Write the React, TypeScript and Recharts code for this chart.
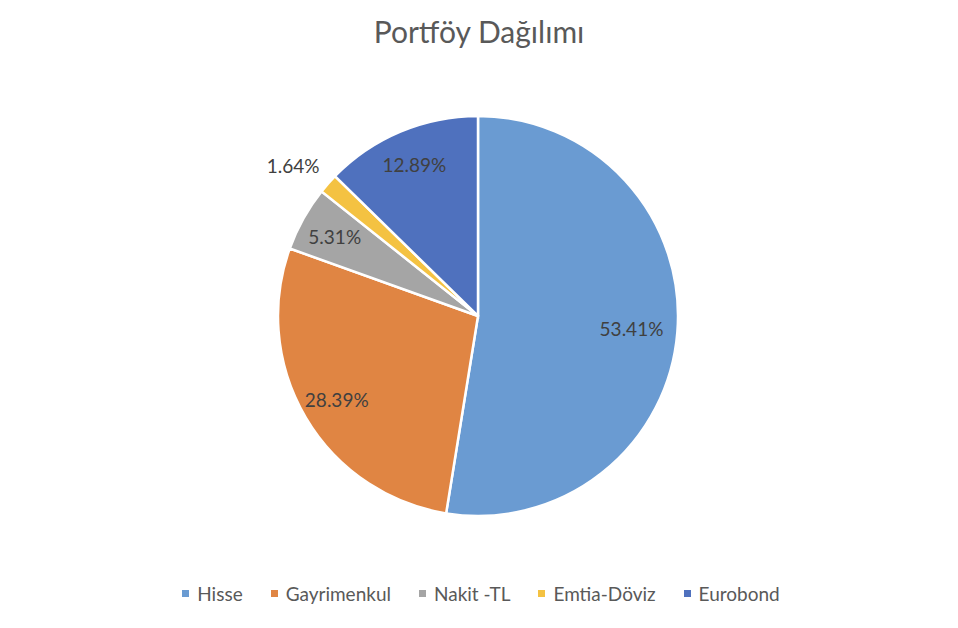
import React from "react";
import { PieChart, Pie, Cell, Legend } from "recharts";

const categories = ["Hisse", "Gayrimenkul", "Nakit -TL", "Emtia-Döviz", "Eurobond"];
const shares = [53.41, 28.39, 5.31, 1.64, 12.89];
const colors = ["#6A9BD2", "#E08543", "#A5A5A5", "#F4C242", "#4F71BE"];

const FONT = "Lato, 'Open Sans', sans-serif";
const RAD = Math.PI / 180;

const data = categories.map((name, i) => ({ name, value: shares[i] }));

function renderLabel(props: any) {
  const { cx, cy, midAngle, outerRadius, percent, value } = props;
  // big slice sits a bit further in, tiny slice goes outside
  let k = 0.82;
  if (percent > 0.4) k = 0.77;
  let dx = 0;
  let dy = 0;
  if (percent < 0.03) {
    k = 1.2;
    dx = -5;
    dy = 8;
  }
  const r = outerRadius * k;
  const x = cx + r * Math.cos(-midAngle * RAD) + dx;
  const y = cy + r * Math.sin(-midAngle * RAD) + dy;
  return (
    <text
      x={x}
      y={y}
      fill="#404040"
      fontSize={19}
      fontFamily={FONT}
      textAnchor="middle"
      dominantBaseline="central"
    >
      {value.toFixed(2)}%
    </text>
  );
}

function renderLegend() {
  return (
    <div
      style={{
        display: "flex",
        justifyContent: "center",
        fontFamily: FONT,
        fontSize: 19,
        color: "#595959",
      }}
    >
      {categories.map((c, i) => (
        <div key={c} style={{ display: "flex", alignItems: "center", marginRight: i < categories.length - 1 ? 28 : 0 }}>
          <span style={{ width: 7, height: 7, background: colors[i], marginRight: 8, display: "inline-block" }} />
          <span>{c}</span>
        </div>
      ))}
    </div>
  );
}

export default function App() {
  return (
    <div style={{ position: "relative", width: 958, height: 628, background: "#fff" }}>
      <style>{"body{margin:0}"}</style>
      <div
        style={{
          position: "absolute",
          top: 13,
          left: 0,
          width: 958,
          textAlign: "center",
          fontFamily: FONT,
          fontSize: 30,
          color: "#595959",
        }}
      >
        Portföy Dağılımı
      </div>
      <PieChart width={958} height={628} margin={{ top: 0, right: 0, bottom: 0, left: 0 }}>
        <Pie
          data={data}
          dataKey="value"
          nameKey="name"
          cx={478}
          cy={316}
          outerRadius={200}
          startAngle={90}
          endAngle={-270}
          stroke="#fff"
          strokeWidth={2.5}
          label={renderLabel}
          labelLine={false}
          isAnimationActive={false}
        >
          {data.map((d, i) => (
            <Cell key={d.name} fill={colors[i]} />
          ))}
        </Pie>
        <Legend
          content={renderLegend}
          wrapperStyle={{ position: "absolute", top: 582, left: 0, width: 962, bottom: "auto" }}
        />
      </PieChart>
    </div>
  );
}
